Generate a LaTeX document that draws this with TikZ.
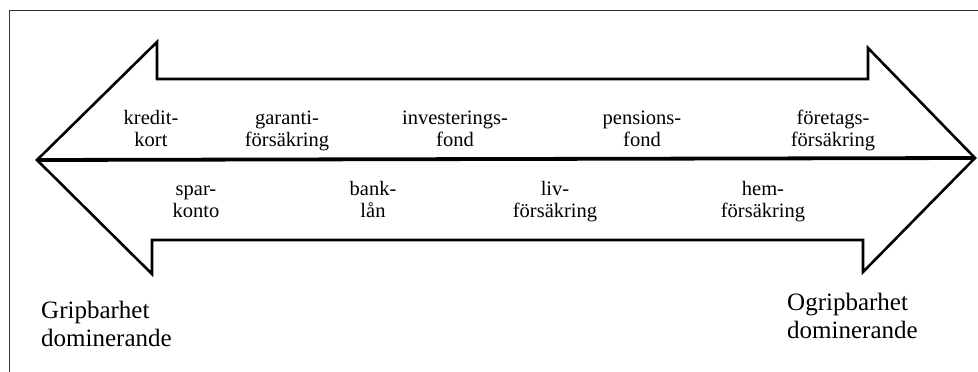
\documentclass[tikz,border=0pt]{standalone}
\usepackage{fontspec}
\setmainfont{Liberation Serif}
\begin{document}
\begin{tikzpicture}[x=1pt,y=-1pt,
  lbl/.style={font=\fontsize{20.5}{22}\selectfont, align=center, anchor=base, inner sep=0pt},
  big/.style={font=\fontsize{25}{28}\selectfont, align=left, anchor=base west, inner sep=0pt},
  outline/.style={line width=2.6pt, line join=miter, miter limit=10},
  midline/.style={line width=3.8pt},
  frame/.style={line width=0.8pt, draw=black!80}]
\useasboundingbox (0,0) rectangle (978,372);
% frame (partly visible)
\draw[frame] (9,372) -- (9,10.5) -- (978,10.5);
% arrow outline
\coordinate (lt) at (37,160);
\coordinate (rt) at (975,158);
\draw[outline] (lt) -- (157,42) -- (157,79) -- (868,79) -- (868,48) -- (rt)
  -- (863,272) -- (863,240) -- (152,240) -- (152,274) -- cycle;
\draw[midline] (lt) -- (rt);
% upper labels
\node[lbl] (kredit) at (151,146) {kredit-\\kort};
\node[lbl] (garanti) at (287,146) {garanti-\\försäkring};
\node[lbl] (invest) at (455,146) {investerings-\\fond};
\node[lbl] (pension) at (642,146) {pensions-\\fond};
\node[lbl] (foretag) at (833,146) {företags-\\försäkring};
% lower labels
\node[lbl] (spar) at (196,217) {spar-\\konto};
\node[lbl] (bank) at (373,217) {bank-\\lån};
\node[lbl] (liv) at (555,217) {liv-\\försäkring};
\node[lbl] (hem) at (763,217) {hem-\\försäkring};
% end labels
\node[big] (grip) at (41,346) {Gripbarhet\\dominerande};
\node[big] (ogrip) at (787,338) {Ogripbarhet\\dominerande};
\end{tikzpicture}
\end{document}
